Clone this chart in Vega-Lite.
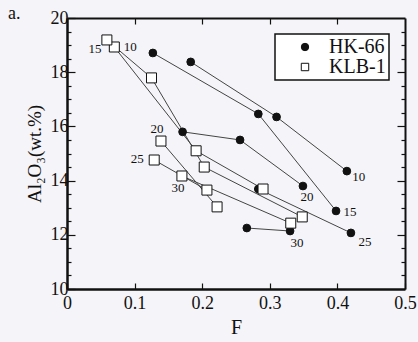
{
  "$schema": "https://vega.github.io/schema/vega-lite/v6.json",
  "width": 338,
  "height": 271,
  "autosize": "none",
  "padding": {"left": 67, "top": 18, "right": 13, "bottom": 53},
  "background": "#f5f4f8",
  "config": {
    "font": "Liberation Serif",
    "view": {"stroke": null},
    "axis": {"domainColor": "#111", "tickColor": "#111", "labelColor": "#111", "titleColor": "#111", "labelFont": "Liberation Serif", "titleFont": "Liberation Serif", "grid": false},
    "legend": {"orient": "top-right", "offset": 16, "padding": 3, "strokeColor": "#111", "strokeWidth": 1.5, "fillColor": "#ffffff", "labelFont": "Liberation Serif", "labelFontSize": 20, "labelColor": "#111", "symbolSize": 55, "symbolStrokeWidth": 1, "symbolOffset": 17, "labelOffset": 14, "rowPadding": 0}
  },
  "title": {"text": "a.", "anchor": "start", "frame": "group", "dx": -59, "dy": 14, "fontSize": 18, "fontWeight": "normal", "font": "Liberation Serif", "color": "#111", "offset": 0},
  "data": {
    "values": [
      {"series": "HK-66", "P": "10", "F": 0.183, "Al": 18.38},
      {"series": "HK-66", "P": "10", "F": 0.310, "Al": 16.35},
      {"series": "HK-66", "P": "10", "F": 0.414, "Al": 14.35, "lab": "10"},
      {"series": "HK-66", "P": "15", "F": 0.127, "Al": 18.71},
      {"series": "HK-66", "P": "15", "F": 0.283, "Al": 16.46},
      {"series": "HK-66", "P": "15", "F": 0.398, "Al": 12.88, "lab": "15"},
      {"series": "HK-66", "P": "20", "F": 0.171, "Al": 15.80},
      {"series": "HK-66", "P": "20", "F": 0.256, "Al": 15.50},
      {"series": "HK-66", "P": "20", "F": 0.349, "Al": 13.80, "lab": "20"},
      {"series": "HK-66", "P": "25", "F": 0.283, "Al": 13.69},
      {"series": "HK-66", "P": "25", "F": 0.420, "Al": 12.07, "lab": "25"},
      {"series": "HK-66", "P": "30", "F": 0.266, "Al": 12.25},
      {"series": "HK-66", "P": "30", "F": 0.330, "Al": 12.14, "lab": "30"},
      {"series": "KLB-1", "P": "10", "F": 0.070, "Al": 18.93, "lab": "10"},
      {"series": "KLB-1", "P": "10", "F": 0.191, "Al": 15.10},
      {"series": "KLB-1", "P": "10", "F": 0.290, "Al": 13.69},
      {"series": "KLB-1", "P": "15", "F": 0.059, "Al": 19.19, "lab": "15"},
      {"series": "KLB-1", "P": "15", "F": 0.125, "Al": 17.79},
      {"series": "KLB-1", "P": "15", "F": 0.203, "Al": 14.50},
      {"series": "KLB-1", "P": "15", "F": 0.348, "Al": 12.66},
      {"series": "KLB-1", "P": "20", "F": 0.139, "Al": 15.46, "lab": "20"},
      {"series": "KLB-1", "P": "20", "F": 0.222, "Al": 13.03},
      {"series": "KLB-1", "P": "25", "F": 0.129, "Al": 14.76, "lab": "25"},
      {"series": "KLB-1", "P": "25", "F": 0.207, "Al": 13.65},
      {"series": "KLB-1", "P": "30", "F": 0.170, "Al": 14.17, "lab": "30"},
      {"series": "KLB-1", "P": "30", "F": 0.331, "Al": 12.43}
    ]
  },
  "layer": [
    {
      "mark": {"type": "line", "color": "#444", "strokeWidth": 1},
      "encoding": {
        "x": {"field": "F", "type": "quantitative", "scale": {"domain": [0, 0.5], "nice": false, "zero": false},
          "axis": {"orient": "bottom", "values": [0, 0.1, 0.2, 0.3, 0.4, 0.5], "format": ".1~f", "tickSize": -6, "tickWidth": 1.2, "domainWidth": 2.5, "labelFont": "Liberation Serif", "labelFontSize": 18, "labelPadding": 11, "title": "F", "titleFont": "Liberation Serif", "titleFontSize": 20, "titleFontWeight": "normal", "titlePadding": 5, "labelFlush": false, "labelOverlap": false}},
        "y": {"field": "Al", "type": "quantitative", "scale": {"domain": [10, 20], "nice": false, "zero": false},
          "axis": {"orient": "left", "values": [10, 10.5, 11, 11.5, 12, 12.5, 13, 13.5, 14, 14.5, 15, 15.5, 16, 16.5, 17, 17.5, 18, 18.5, 19, 19.5, 20], "labelExpr": "datum.value % 2 === 0 ? format(datum.value, 'd') : ''", "tickSize": {"condition": {"test": "datum.value % 2 === 0", "value": -8}, "value": -4}, "tickWidth": 1.2, "domainWidth": 2.5, "labelFont": "Liberation Serif", "labelFontSize": 18, "labelPadding": 7, "labelOverlap": false, "title": "Al₂O₃(wt.%)", "titleFont": "Liberation Serif", "titleFontSize": 19, "titleFontWeight": "normal", "titlePadding": 6, "labelFlush": false}},
        "detail": [{"field": "series"}, {"field": "P"}]
      }
    },
    {
      "mark": {"type": "point", "strokeWidth": 1, "opacity": 1},
      "encoding": {
        "x": {"field": "F", "type": "quantitative",
          "axis": {"orient": "top", "values": [0.1, 0.2, 0.3, 0.4], "labels": false, "title": null, "tickSize": -6, "tickWidth": 1.2, "domainWidth": 2}},
        "y": {"field": "Al", "type": "quantitative",
          "axis": {"orient": "right", "values": [10.5, 11, 11.5, 12, 12.5, 13, 13.5, 14, 14.5, 15, 15.5, 16, 16.5, 17, 17.5, 18, 18.5, 19, 19.5], "labels": false, "title": null, "tickSize": {"condition": {"test": "datum.value % 2 === 0", "value": -8}, "value": -4}, "tickWidth": 1.2, "domainWidth": 2}},
        "shape": {"field": "series", "type": "nominal", "scale": {"domain": ["HK-66", "KLB-1"], "range": ["circle", "square"]}, "title": ""},
        "fill": {"field": "series", "type": "nominal", "scale": {"domain": ["HK-66", "KLB-1"], "range": ["#111", "#ffffff"]}, "title": ""},
        "stroke": {"field": "series", "type": "nominal", "scale": {"domain": ["HK-66", "KLB-1"], "range": ["#111", "#111"]}, "title": ""},
        "size": {"condition": {"test": "datum.series === 'KLB-1'", "value": 100}, "value": 60}
      }
    },
    {"transform": [{"filter": "datum.series === 'HK-66' && datum.lab === '10'"}], "mark": {"type": "text", "fontSize": 13, "dx": 12, "dy": 6, "fill": "#111", "font": "Liberation Serif"}, "encoding": {"x": {"field": "F", "type": "quantitative", "axis": null}, "y": {"field": "Al", "type": "quantitative", "axis": null}, "text": {"field": "lab"}}},
    {"transform": [{"filter": "datum.series === 'HK-66' && datum.lab === '15'"}], "mark": {"type": "text", "fontSize": 13, "dx": 14, "dy": 1, "fill": "#111", "font": "Liberation Serif"}, "encoding": {"x": {"field": "F", "type": "quantitative", "axis": null}, "y": {"field": "Al", "type": "quantitative", "axis": null}, "text": {"field": "lab"}}},
    {"transform": [{"filter": "datum.series === 'HK-66' && datum.lab === '20'"}], "mark": {"type": "text", "fontSize": 13, "dx": 4, "dy": 11, "fill": "#111", "font": "Liberation Serif"}, "encoding": {"x": {"field": "F", "type": "quantitative", "axis": null}, "y": {"field": "Al", "type": "quantitative", "axis": null}, "text": {"field": "lab"}}},
    {"transform": [{"filter": "datum.series === 'HK-66' && datum.lab === '25'"}], "mark": {"type": "text", "fontSize": 13, "dx": 14, "dy": 9, "fill": "#111", "font": "Liberation Serif"}, "encoding": {"x": {"field": "F", "type": "quantitative", "axis": null}, "y": {"field": "Al", "type": "quantitative", "axis": null}, "text": {"field": "lab"}}},
    {"transform": [{"filter": "datum.series === 'HK-66' && datum.lab === '30'"}], "mark": {"type": "text", "fontSize": 13, "dx": 7, "dy": 12, "fill": "#111", "font": "Liberation Serif"}, "encoding": {"x": {"field": "F", "type": "quantitative", "axis": null}, "y": {"field": "Al", "type": "quantitative", "axis": null}, "text": {"field": "lab"}}},
    {"transform": [{"filter": "datum.series === 'KLB-1' && datum.lab === '10'"}], "mark": {"type": "text", "fontSize": 13, "dx": 16, "dy": 0, "fill": "#111", "font": "Liberation Serif"}, "encoding": {"x": {"field": "F", "type": "quantitative", "axis": null}, "y": {"field": "Al", "type": "quantitative", "axis": null}, "text": {"field": "lab"}}},
    {"transform": [{"filter": "datum.series === 'KLB-1' && datum.lab === '15'"}], "mark": {"type": "text", "fontSize": 13, "dx": -12, "dy": 9, "fill": "#111", "font": "Liberation Serif"}, "encoding": {"x": {"field": "F", "type": "quantitative", "axis": null}, "y": {"field": "Al", "type": "quantitative", "axis": null}, "text": {"field": "lab"}}},
    {"transform": [{"filter": "datum.series === 'KLB-1' && datum.lab === '20'"}], "mark": {"type": "text", "fontSize": 13, "dx": -4, "dy": -12, "fill": "#111", "font": "Liberation Serif"}, "encoding": {"x": {"field": "F", "type": "quantitative", "axis": null}, "y": {"field": "Al", "type": "quantitative", "axis": null}, "text": {"field": "lab"}}},
    {"transform": [{"filter": "datum.series === 'KLB-1' && datum.lab === '25'"}], "mark": {"type": "text", "fontSize": 13, "dx": -17, "dy": -1, "fill": "#111", "font": "Liberation Serif"}, "encoding": {"x": {"field": "F", "type": "quantitative", "axis": null}, "y": {"field": "Al", "type": "quantitative", "axis": null}, "text": {"field": "lab"}}},
    {"transform": [{"filter": "datum.series === 'KLB-1' && datum.lab === '30'"}], "mark": {"type": "text", "fontSize": 13, "dx": -4, "dy": 12, "fill": "#111", "font": "Liberation Serif"}, "encoding": {"x": {"field": "F", "type": "quantitative", "axis": null}, "y": {"field": "Al", "type": "quantitative", "axis": null}, "text": {"field": "lab"}}}
  ],
  "resolve": {"axis": {"x": "independent", "y": "independent"}, "legend": {"shape": "shared", "fill": "shared", "stroke": "shared"}}
}
